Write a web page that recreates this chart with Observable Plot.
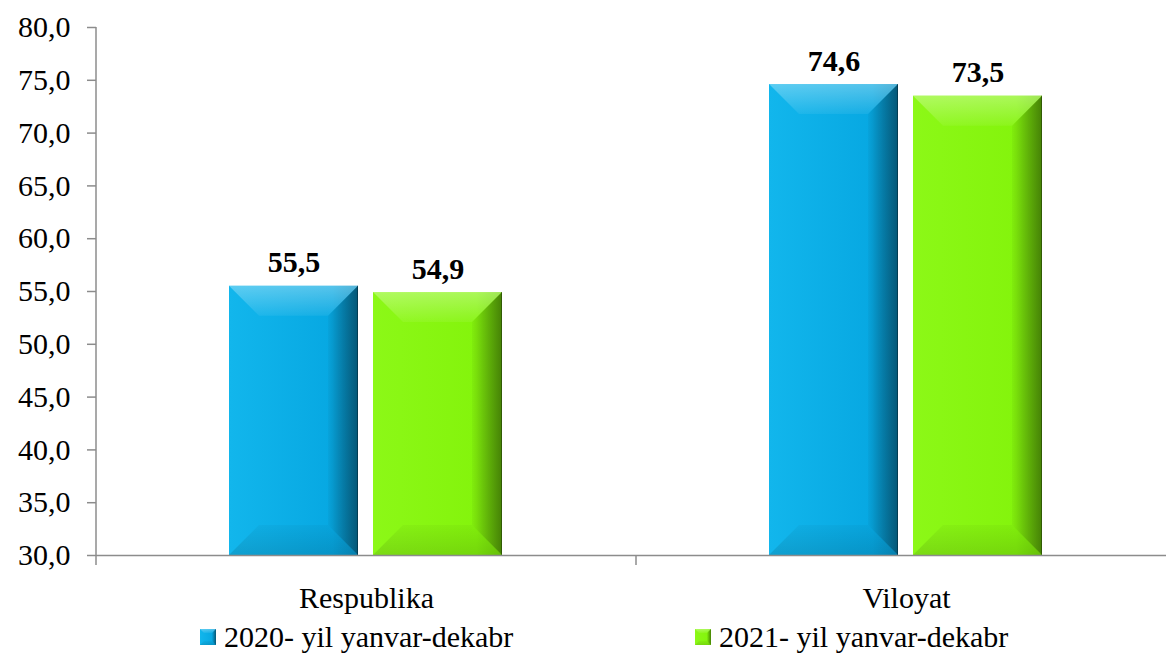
<!DOCTYPE html>
<html><head><meta charset="utf-8">
<script src="https://cdn.jsdelivr.net/npm/d3@7"></script>
<script src="https://cdn.jsdelivr.net/npm/@observablehq/plot@0.6"></script>
<style>
html,body{margin:0;padding:0;overflow:hidden;background:#fff;width:1166px;height:657px;}
body{position:relative;}
#legend{position:absolute;left:0;top:617px;width:1166px;height:40px;}
.item{position:absolute;top:0;display:flex;align-items:center;height:40px;font-size:30px;color:#000;white-space:nowrap;}
.sw{width:16px;height:16px;margin-right:8px;}
</style></head><body>
<svg width="0" height="0" style="position:absolute">
<defs>
<linearGradient id="gBlue" x1="0" x2="1" y1="0" y2="0">
<stop offset="0" stop-color="#12b6ec"/><stop offset="0.8" stop-color="#07a8e2"/><stop offset="1" stop-color="#0890c4"/>
</linearGradient>
<linearGradient id="gGreen" x1="0" x2="1" y1="0" y2="0">
<stop offset="0" stop-color="#8cf817"/><stop offset="0.8" stop-color="#84f40c"/><stop offset="1" stop-color="#74d80a"/>
</linearGradient>
<linearGradient id="gTop" x1="0" x2="0" y1="0" y2="1">
<stop offset="0" stop-color="#fff" stop-opacity="0.32"/><stop offset="1" stop-color="#fff" stop-opacity="0.06"/>
</linearGradient>
<linearGradient id="gRight" x1="0" x2="1" y1="0" y2="0">
<stop offset="0" stop-color="#000" stop-opacity="0.03"/><stop offset="1" stop-color="#000" stop-opacity="0.4"/>
</linearGradient>
<linearGradient id="gBottom" x1="0" x2="0" y1="0" y2="1">
<stop offset="0" stop-color="#000" stop-opacity="0.03"/><stop offset="1" stop-color="#000" stop-opacity="0.12"/>
</linearGradient>
</defs></svg>
<div id="chart"></div>
<div id="legend"></div>
<script>
const categories = ["Respublika", "Viloyat"];
const series = ["2020- yil yanvar-dekabr", "2021- yil yanvar-dekabr"];
const values2020 = [55.5, 74.6];
const values2021 = [54.9, 73.5];
const yTicks = [30, 35, 40, 45, 50, 55, 60, 65, 70, 75, 80];
const seriesFill = ["url(#gBlue)", "url(#gGreen)"];
const FONT = "'Liberation Serif', 'Times New Roman', Tinos, 'Nimbus Roman', 'Nimbus Roman No9 L', FreeSerif, Times, 'DejaVu Serif', 'Noto Serif', serif";

const data = categories.flatMap((c, i) => [
  {cat: c, s: series[0], v: values2020[i]},
  {cat: c, s: series[1], v: values2021[i]}
]);
const fmt = d => d.toFixed(1).replace(".", ",");
const NS = "http://www.w3.org/2000/svg";

function bevelRender(index, scales, values, dims, ctx, next) {
  const g = next(index, scales, values, dims, ctx);
  const rects = Array.from(g.querySelectorAll("rect"));
  for (const r of rects) {
    const x = +r.getAttribute("x"), y = +r.getAttribute("y");
    const w = +r.getAttribute("width"), h = +r.getAttribute("height");
    const b = Math.min(30, h / 2, w / 2);
    const polys = [
      [[x, y], [x + w, y], [x + w - b, y + b], [x + b, y + b], "url(#gTop)"],
      [[x, y + h], [x + w, y + h], [x + w - b, y + h - b], [x + b, y + h - b], "url(#gBottom)"],
      [[x + w, y], [x + w - b, y + b], [x + w - b, y + h - b], [x + w, y + h], "url(#gRight)"]
    ];
    for (const p of polys) {
      const el = document.createElementNS(NS, "polygon");
      el.setAttribute("points", p.slice(0, 4).map(q => q.join(",")).join(" "));
      el.setAttribute("fill", p[4]);
      g.appendChild(el);
    }
    const edge = document.createElementNS(NS, "line");
    edge.setAttribute("x1", x + w - 0.5); edge.setAttribute("x2", x + w - 0.5);
    edge.setAttribute("y1", y); edge.setAttribute("y2", y + h);
    edge.setAttribute("stroke", "#000"); edge.setAttribute("stroke-opacity", "0.3");
    g.appendChild(edge);
  }
  return g;
}

const chart = Plot.plot({
  width: 1176,
  height: 617,
  marginLeft: 95,
  marginRight: 0,
  marginTop: 27,
  marginBottom: 62,
  style: {fontFamily: FONT, fontSize: "30px", color: "#000", background: "transparent", overflow: "visible", maxWidth: "none"},
  y: {domain: [30, 80], axis: null},
  fx: {domain: categories, padding: 0, label: null, axis: "bottom", tickSize: 0, tickPadding: 31},
  x: {domain: series, paddingInner: 0.104, paddingOuter: 0.927, axis: null},
  marks: [
    Plot.axisY({ticks: yTicks, tickFormat: fmt, tickSize: 9, tickPadding: 17, stroke: "#8c8c8c", strokeWidth: 1.5, label: null, fontSize: 30, fill: "#000"}),
    ...series.map((s, k) => Plot.barY(data.filter(d => d.s === s), {
      fx: "cat", x: "s", y1: 30, y2: "v", fill: seriesFill[k], render: bevelRender
    })),
    Plot.ruleY([30], {stroke: "#8c8c8c", strokeWidth: 1.5}),
    Plot.text(data, {fx: "cat", x: "s", y: "v", text: d => fmt(d.v), lineAnchor: "bottom", dy: -14, fontWeight: "bold", fontSize: 30, fill: "#000"})
  ]
});
chart.style.maxWidth = "none";
chart.style.fontFamily = FONT;
document.getElementById("chart").appendChild(chart);

const fxS = chart.scale("fx"), yS = chart.scale("y");
const svg = d3.select(chart);
const x0 = fxS.apply(categories[0]);
svg.append("line").attr("x1", x0).attr("x2", x0).attr("y1", yS.apply(80)).attr("y2", yS.apply(30) + 10)
  .attr("stroke", "#8c8c8c").attr("stroke-width", 1.5);
const bounds = categories.map(c => fxS.apply(c)).concat([fxS.apply(categories[categories.length - 1]) + fxS.bandwidth]);
svg.selectAll(null).data(bounds.slice(1)).join("line")
  .attr("x1", d => d).attr("x2", d => d).attr("y1", yS.apply(30)).attr("y2", yS.apply(30) + 10)
  .attr("stroke", "#8c8c8c").attr("stroke-width", 1.5);

const legend = document.getElementById("legend");
legend.style.fontFamily = FONT;
const legendLeft = [200, 695];
series.forEach((s, k) => {
  const item = document.createElement("div");
  item.className = "item";
  item.style.left = legendLeft[k] + "px";
  item.innerHTML = `<svg class="sw" viewBox="0 0 16 16"><rect width="16" height="16" fill="${seriesFill[k]}"/><polygon points="0,0 16,0 12,4 4,4" fill="url(#gTop)"/><polygon points="16,0 12,4 12,12 16,16" fill="url(#gRight)"/><polygon points="0,16 16,16 12,12 4,12" fill="url(#gBottom)"/></svg><span>${s}</span>`;
  legend.appendChild(item);
});
</script>
</body></html>
